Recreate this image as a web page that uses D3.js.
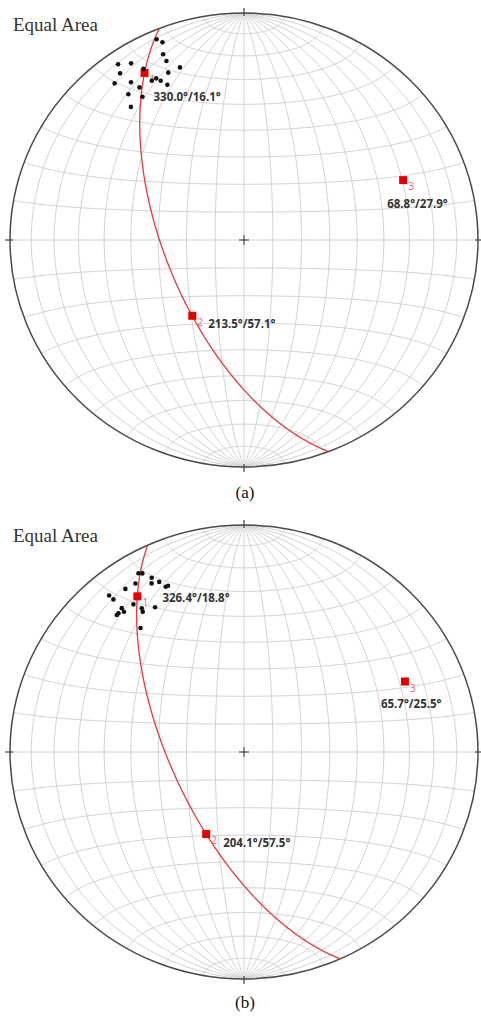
<!DOCTYPE html>
<html>
<head>
<meta charset="utf-8">
<script src="https://cdn.jsdelivr.net/npm/d3@7"></script>
<style>
  body { margin: 0; background: #fff; }
  svg { display: block; }
</style>
</head>
<body>
<svg id="chart" width="481" height="1020"></svg>
<script>
// ---- data: principal stress axes (trend°, plunge°) ----
const panelLabels = ['(a)', '(b)'];
const axisNames = ['1', '2', '3'];
const axisTrendA = [330.0, 213.5, 68.8];
const axisPlungeA = [16.1, 57.1, 27.9];
const axisTrendB = [326.4, 204.1, 65.7];
const axisPlungeB = [18.8, 57.5, 25.5];

// ---- data: measured lineations (trend°, plunge°) ----
const lineTrendA = [337.1, 338.2, 337.1, 337.2, 340.2, 336.3, 325.2, 328.2, 324.2, 330.3,
                    321.3, 325.2, 326.4, 330.7, 332.2, 333.1, 334.4, 322.4, 325.5, 320.5];
const linePlungeA = [4.5, 6.9, 12.2, 15.6, 20.3, 20.6, 6.4, 9.3, 10.4, 14.3,
                     12.6, 16.5, 20.4, 20.6, 20.6, 22.4, 25.2, 20.1, 24.4, 25.0];
const lineTrendB = [330.2, 331.1, 332.8, 334.2, 332.0, 335.3, 336.1, 328.0, 324.8, 320.1,
                    320.3, 324.0, 325.4, 325.0, 329.2, 320.5, 320.3, 318.7, 318.0, 321.0];
const linePlungeB = [10.2, 11.1, 14.8, 17.9, 17.0, 21.0, 21.0, 13.5, 13.1, 11.1,
                     13.7, 20.7, 24.1, 25.5, 26.7, 19.0, 20.8, 19.8, 19.9, 30.4];

// ---- layout ----
const RX = 234, RY = 227;
const panels = [
  { cx: 244, cy: 240, titleY: 31, captionY: 498,
    trend: axisTrendA, plunge: axisPlungeA, lt: lineTrendA, lp: linePlungeA,
    labelOffsets: [[9, 24], [16, 8], [-16, 24]] },
  { cx: 244, cy: 752, titleY: 542, captionY: 1008,
    trend: axisTrendB, plunge: axisPlungeB, lt: lineTrendB, lp: linePlungeB,
    labelOffsets: [[25, 2], [17, 9], [-24, 22]] }
];

const svg = d3.select('#chart');
const rad = Math.PI / 180;

// lower-hemisphere line (trend, plunge) -> lon/lat on a sphere viewed from below
function toLonLat(t, p) {
  const tr = t * rad, pr = p * rad;
  const x = Math.sin(pr), y = Math.cos(pr) * Math.sin(tr), z = Math.cos(pr) * Math.cos(tr);
  return [Math.atan2(y, x) / rad, Math.asin(Math.max(-1, Math.min(1, z))) / rad];
}

// equal-area (Schmidt) projection with slightly flattened vertical axis
const k = RY / RX;
function netRaw(l, p) {
  const xy = d3.geoAzimuthalEqualAreaRaw(l, p);
  return [xy[0], xy[1] * k];
}

// 10° equatorial net: meridians through N/S poles and small circles about N-S axis
const meridians = d3.range(-80, 81, 10).map(L =>
  d3.range(-89.99, 89.995, 1).concat([89.99]).map(lat => [L, lat]));
const parallels = d3.range(-80, 81, 10).map(lat =>
  d3.range(-96, 96.5, 1).map(lon => [lon, lat]));
const netGrid = { type: 'MultiLineString', coordinates: meridians.concat(parallels) };

panels.forEach((P, pi) => {
  const proj = d3.geoProjection(netRaw)
    .scale(RX / Math.SQRT2)
    .translate([P.cx, P.cy])
    .clipAngle(90)
    .precision(0.1);
  const path = d3.geoPath(proj);
  const g = svg.append('g');

  // grid
  g.append('path').datum(netGrid).attr('d', path)
    .attr('fill', 'none').attr('stroke', '#d2d2d2').attr('stroke-width', 1);

  // primitive circle
  g.append('ellipse').attr('cx', P.cx).attr('cy', P.cy).attr('rx', RX).attr('ry', RY)
    .attr('fill', 'none').attr('stroke', '#4a4a4a').attr('stroke-width', 1.5);

  // N/E/S/W ticks
  [[0, -1], [1, 0], [0, 1], [-1, 0]].forEach(([dx, dy]) => {
    g.append('line')
      .attr('x1', P.cx + dx * (RX - 3)).attr('y1', P.cy + dy * (RY - 3))
      .attr('x2', P.cx + dx * (RX + 5)).attr('y2', P.cy + dy * (RY + 5))
      .attr('stroke', '#444').attr('stroke-width', 1.2);
  });

  // centre cross
  g.append('path')
    .attr('d', `M${P.cx - 5},${P.cy}H${P.cx + 5}M${P.cx},${P.cy - 5}V${P.cy + 5}`)
    .attr('stroke', '#333').attr('stroke-width', 1);

  // great circle through axes 1 and 2 (plane normal to axis 3)
  const pole3 = toLonLat(P.trend[2], P.plunge[2]);
  const ring = d3.geoCircle().center(pole3).radius(90).precision(0.5)().coordinates[0];
  g.append('path').datum({ type: 'LineString', coordinates: ring }).attr('d', path)
    .attr('fill', 'none').attr('stroke', '#e23a3a').attr('stroke-width', 1.3);

  // principal axes
  const axes = P.trend.map((t, i) => {
    const xy = proj(toLonLat(t, P.plunge[i]));
    return { name: axisNames[i], t, p: P.plunge[i], x: xy[0], y: xy[1], off: P.labelOffsets[i] };
  });

  g.selectAll('text.num').data(axes).join('text')
    .attr('x', d => d.x + 5).attr('y', d => d.y + 10)
    .attr('font-family', 'Open Sans, sans-serif').attr('font-size', 10)
    .attr('fill', '#e8606a').text(d => d.name);

  g.selectAll('rect.axis').data(axes).join('rect')
    .attr('x', d => d.x - 4).attr('y', d => d.y - 4)
    .attr('width', 8).attr('height', 8).attr('fill', '#e50000');

  // lineation dots
  const dots = P.lt.map((t, i) => proj(toLonLat(t, P.lp[i])));
  g.selectAll('circle.dot').data(dots).join('circle')
    .attr('cx', d => d[0]).attr('cy', d => d[1]).attr('r', 2.3).attr('fill', '#111');

  // axis value labels
  g.selectAll('text.val').data(axes).join('text')
    .attr('x', d => d.x + d.off[0]).attr('y', d => d.y + d.off[1])
    .attr('dy', '0.35em')
    .attr('font-family', 'Open Sans, sans-serif').attr('font-weight', 700)
    .attr('font-size', 11.5).attr('fill', '#333')
    .text(d => `${d.t.toFixed(1)}°/${d.p.toFixed(1)}°`);

  // title and caption
  g.append('text').attr('x', 13).attr('y', P.titleY)
    .attr('font-family', 'Liberation Serif, Times New Roman, serif').attr('font-size', 19)
    .attr('fill', '#333').text('Equal Area');
  g.append('text').attr('x', 245).attr('y', P.captionY).attr('text-anchor', 'middle')
    .attr('font-family', 'Liberation Serif, Times New Roman, serif').attr('font-size', 17)
    .attr('fill', '#111').text(panelLabels[pi]);
});
</script>
</body>
</html>
